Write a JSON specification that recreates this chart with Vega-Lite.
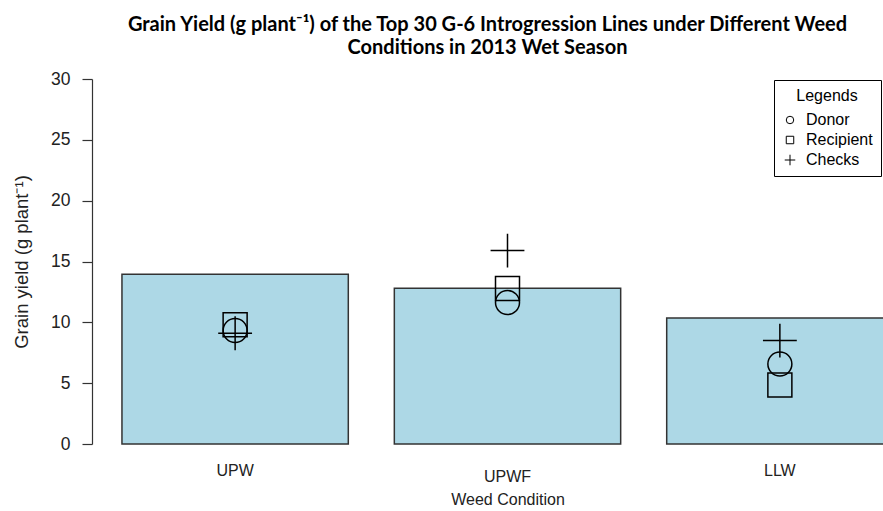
{
  "$schema": "https://vega.github.io/schema/vega-lite/v6.json",
  "width": 791,
  "height": 365,
  "autosize": {"type": "none"},
  "padding": {"left": 92, "top": 79, "right": 0, "bottom": 67},
  "background": "white",
  "title": {
    "text": ["Grain Yield (g plant⁻¹) of the Top 30 G-6 Introgression Lines under Different Weed", "Conditions in 2013 Wet Season"],
    "font": "Lato",
    "fontSize": 20,
    "fontWeight": "bold",
    "color": "black",
    "anchor": "middle",
    "offset": 12,
    "lineHeight": 23
  },
  "config": {
    "view": {"stroke": null},
    "axis": {"grid": false},
    "legend": {
      "orient": "none",
      "legendX": 682,
      "legendY": 1,
      "titleAnchor": "middle",
      "titleFontSize": 16,
      "titleFontWeight": "normal",
      "titleFont": "Liberation Sans",
      "titleColor": "black",
      "labelFontSize": 16,
      "labelFont": "Liberation Sans",
      "labelColor": "black",
      "strokeColor": "black",
      "fillColor": "white",
      "padding": 8,
      "symbolStrokeColor": "black",
      "symbolStrokeWidth": 1,
      "symbolFillColor": "transparent",
      "symbolSize": 56,
      "rowPadding": 4,
      "titlePadding": 8,
      "labelOffset": 8
    }
  },
  "encoding": {
    "x": {
      "field": "condition",
      "type": "nominal",
      "sort": ["UPW", "UPWF", "LLW"],
      "scale": {"type": "band", "domain": ["UPW", "UPWF", "LLW"], "range": [0, 831], "paddingInner": 0.169, "paddingOuter": 0.11},
      "axis": {
        "title": "Weed Condition",
        "domain": false,
        "ticks": false,
        "labelAngle": 0,
        "labelFont": "Liberation Sans",
        "labelFontSize": 16,
        "labelColor": "#222",
        "labelPadding": 18,
        "labelLineHeight": 6,
        "labelExpr": "datum.value == 'UPWF' ? ['', 'UPWF'] : datum.value",
        "titleFont": "Liberation Sans",
        "titleFontSize": 16,
        "titleFontWeight": "normal",
        "titleColor": "#222",
        "titlePadding": 7
      }
    }
  },
  "layer": [
    {
      "data": {"values": [
        {"condition": "UPW", "yield": 13.95},
        {"condition": "UPWF", "yield": 12.8},
        {"condition": "LLW", "yield": 10.35}
      ]},
      "mark": {"type": "bar", "fill": "#ADD8E6", "stroke": "#333333", "strokeWidth": 1.5},
      "encoding": {
        "y": {
          "field": "yield",
          "type": "quantitative",
          "scale": {"domain": [0, 30], "nice": false},
          "axis": {
            "title": "Grain yield (g plant⁻¹)",
            "values": [0, 5, 10, 15, 20, 25, 30],
            "tickSize": 10,
            "tickColor": "#333",
            "domainColor": "#333",
            "tickWidth": 1.2,
            "domainWidth": 1.2,
            "labelFont": "Liberation Sans",
            "labelFontSize": 17.5,
            "labelColor": "#222",
            "labelPadding": 12,
            "titleFont": "Liberation Sans",
            "titleFontSize": 18.5,
            "titleFontWeight": "normal",
            "titleColor": "#222",
            "titlePadding": 19
          }
        }
      }
    },
    {
      "data": {"values": [
        {"condition": "UPW", "type": "Donor", "value": 9.33},
        {"condition": "UPW", "type": "Recipient", "value": 9.8},
        {"condition": "UPW", "type": "Checks", "value": 9.1},
        {"condition": "UPWF", "type": "Donor", "value": 11.63},
        {"condition": "UPWF", "type": "Recipient", "value": 12.78},
        {"condition": "UPWF", "type": "Checks", "value": 15.9},
        {"condition": "LLW", "type": "Donor", "value": 6.57},
        {"condition": "LLW", "type": "Recipient", "value": 4.85},
        {"condition": "LLW", "type": "Checks", "value": 8.5}
      ]},
      "mark": {"type": "point", "filled": false, "color": "black", "size": 576, "strokeWidth": 1.5, "opacity": 1},
      "encoding": {
        "y": {"field": "value", "type": "quantitative"},
        "shape": {
          "field": "type",
          "type": "nominal",
          "scale": {"domain": ["Donor", "Recipient", "Checks"], "range": ["circle", "square", "M-1.41,0H1.41M0,-1.41V1.41"]},
          "legend": {"title": "Legends"}
        }
      }
    }
  ]
}
